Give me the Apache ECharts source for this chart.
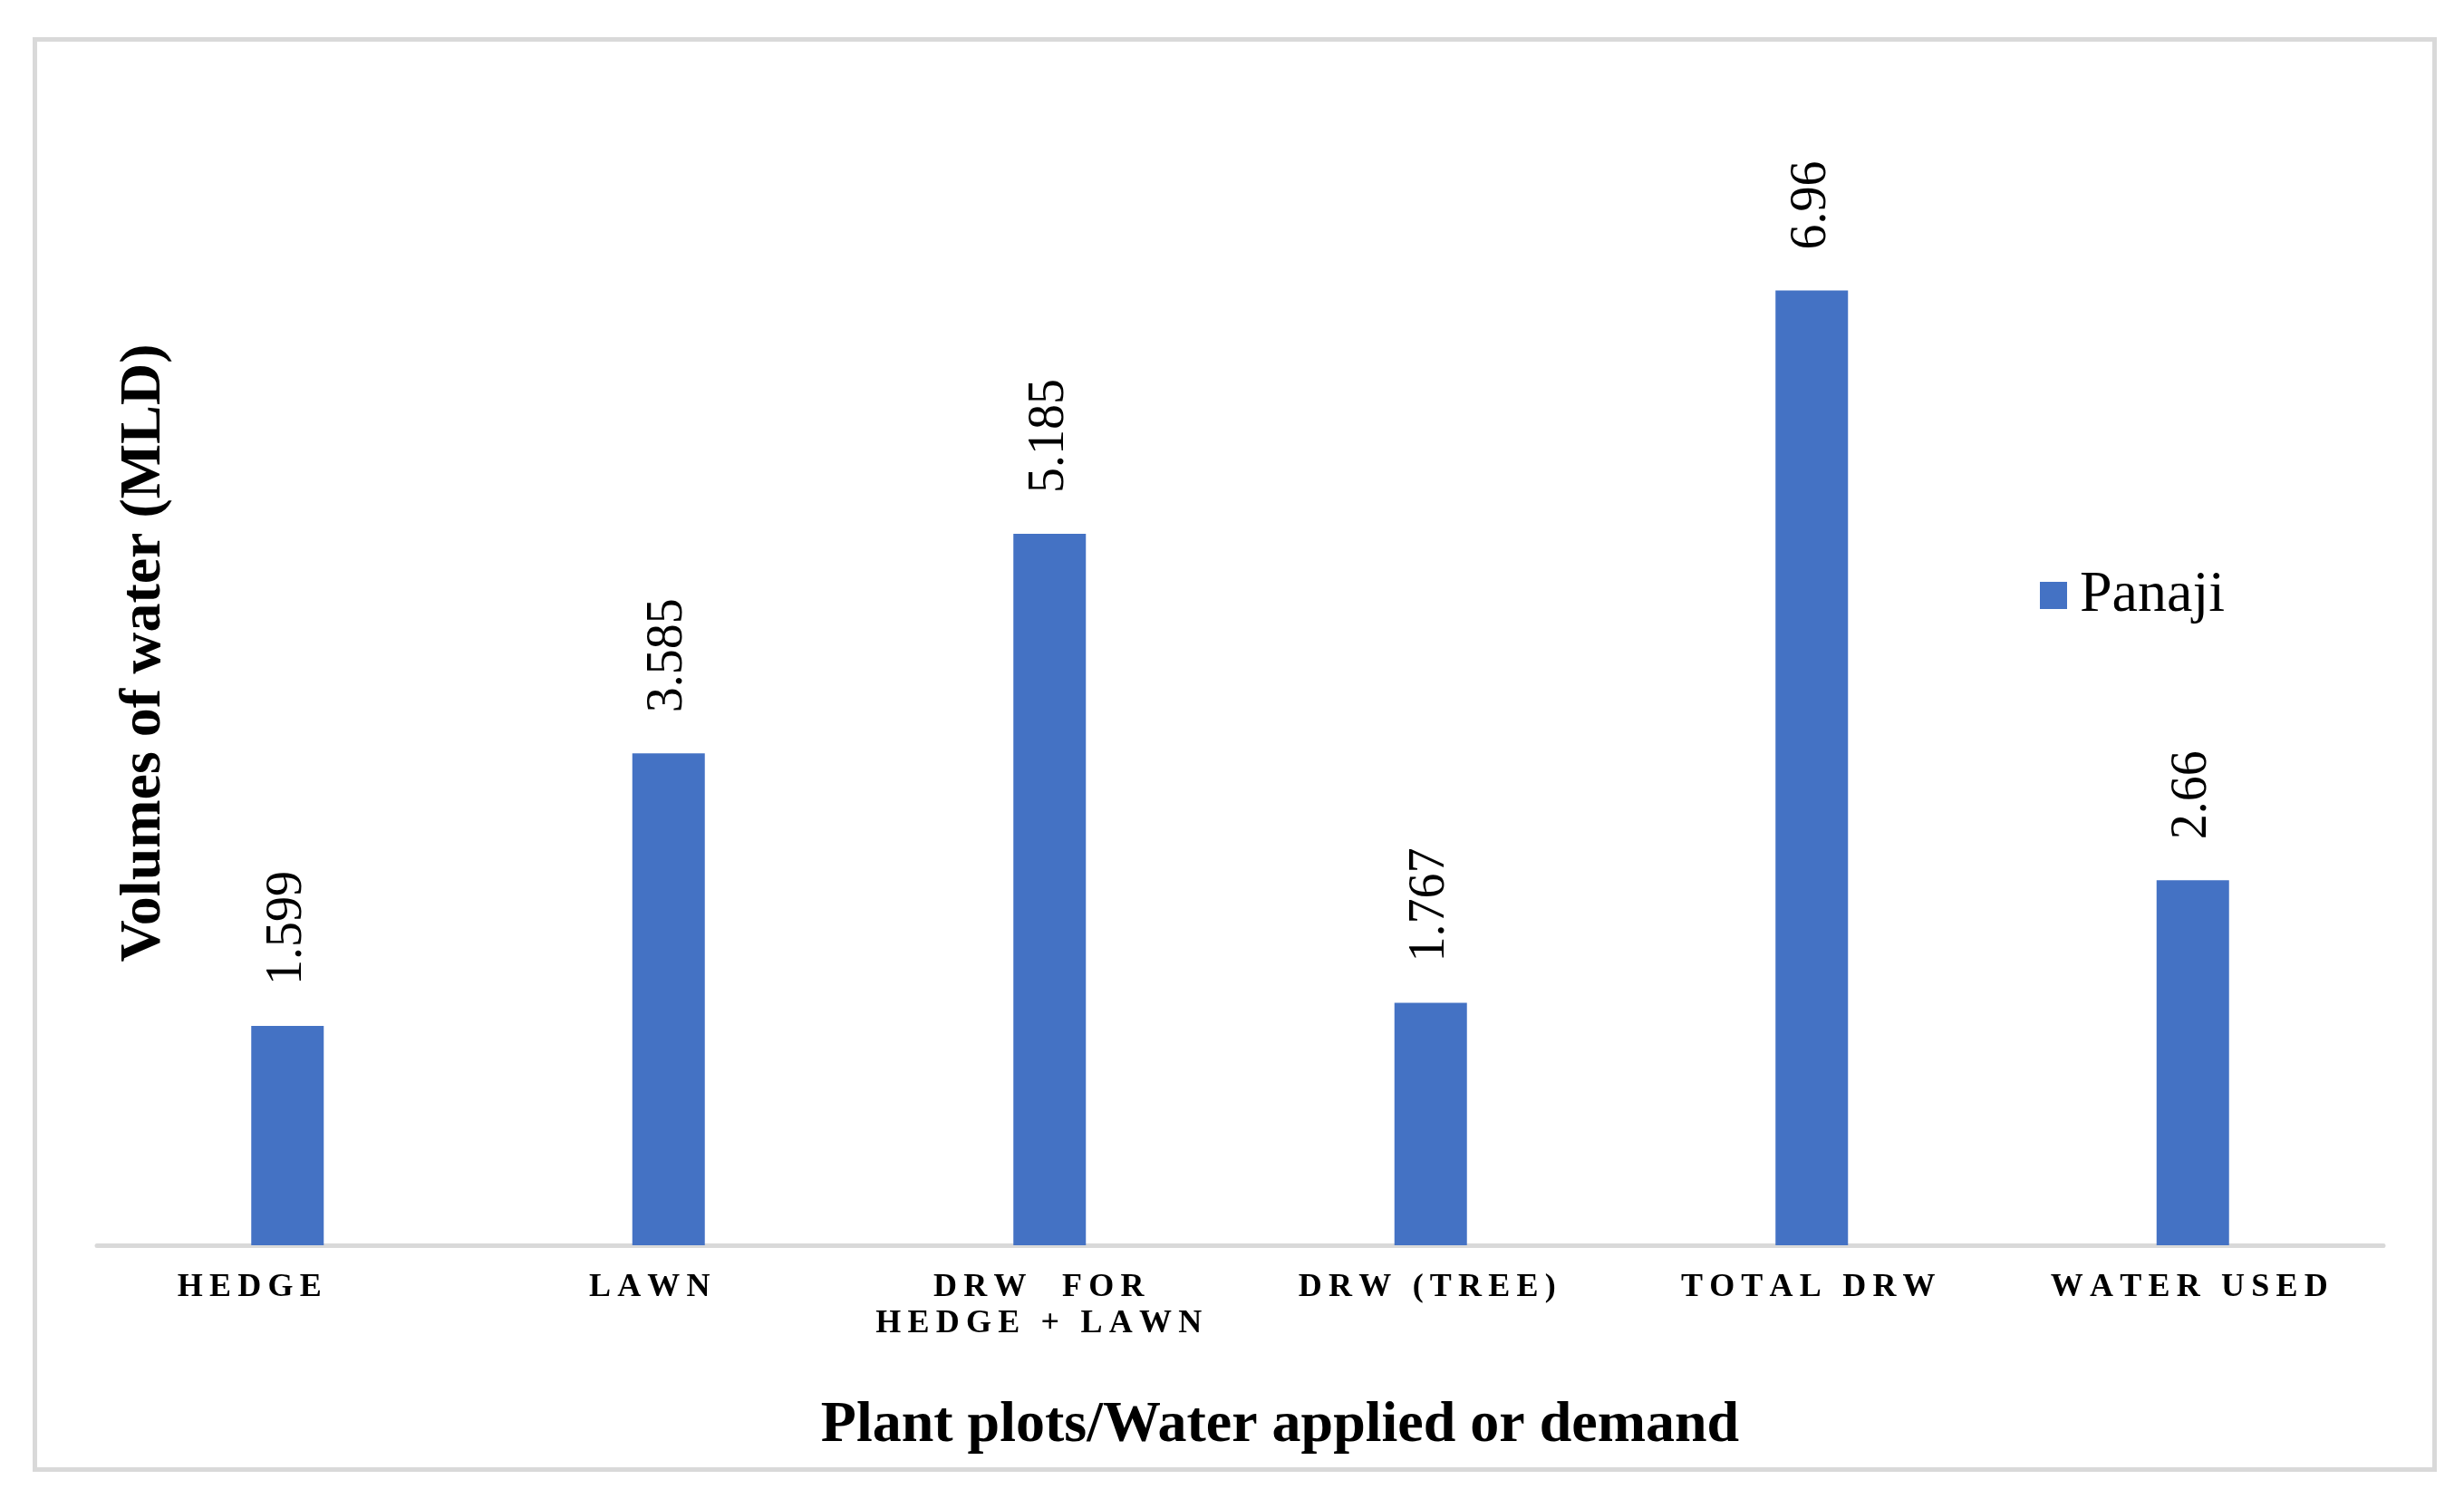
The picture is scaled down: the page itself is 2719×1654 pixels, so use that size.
<!DOCTYPE html>
<html>
<head>
<meta charset="utf-8">
<script src="https://cdn.jsdelivr.net/npm/echarts@6/dist/echarts.min.js"></script>
<style>
  html, body { margin: 0; padding: 0; background: #fff; }
  #main { width: 2719px; height: 1654px; }
</style>
</head>
<body>
<div id="main"></div>
<script>
const categories = ['HEDGE', 'LAWN', 'DRW  FOR\nHEDGE + LAWN', 'DRW (TREE)', 'TOTAL DRW', 'WATER USED']
const panaji = [1.599, 3.585, 5.185, 1.767, 6.96, 2.66]
const seriesName = 'Panaji'
const xTitle = 'Plant plots/Water applied or demand'
const yTitle = 'Volumes of water (MLD)'

const serif = '"Liberation Serif", "Times New Roman", serif'

// spread letters apart like the original small-caps labels
const spaced = s => s.split('\n').map(line => line.split('').join('\u2009')).join('\n')

// the original labels sit a bit left of their bars, most on the left side
const nudge = [84, 42, 24, 8, 8, 8]

const chart = echarts.init(document.getElementById('main'))
chart.setOption({
  animation: false,
  backgroundColor: '#fff',
  graphic: [{
    type: 'rect',
    shape: { x: 38.5, y: 43.5, width: 2648, height: 1578 },
    style: { fill: 'none', stroke: '#d9d9d9', lineWidth: 5 },
    silent: true
  }],
  legend: {
    data: [seriesName],
    left: 2246,
    top: 620,
    icon: 'rect',
    itemWidth: 30,
    itemHeight: 30,
    itemGap: 12,
    textStyle: { fontFamily: serif, fontSize: 64, color: '#000', padding: [0, 0, 0, 9] }
  },
  grid: { left: 107, right: 89, top: 163, bottom: 280 },
  xAxis: {
    type: 'category',
    data: categories.map((c, i) => ({ value: c, textStyle: { padding: [0, nudge[i], 0, 0] } })),
    axisLine: { lineStyle: { color: '#d9d9d9', width: 5 } },
    axisTick: { show: false },
    axisLabel: {
      interval: 0,
      margin: 27,
      fontFamily: serif,
      fontWeight: 'bold',
      fontSize: 36,
      lineHeight: 40,
      color: '#000',
      formatter: v => spaced(v)
    },
    name: xTitle,
    nameLocation: 'middle',
    nameGap: 167,
    nameTextStyle: {
      fontFamily: serif, fontWeight: 'bold', fontSize: 64, color: '#000',
      padding: [0, 0, 0, 88]
    }
  },
  yAxis: {
    type: 'value',
    min: 0,
    max: 8,
    axisLine: { show: false },
    axisTick: { show: false },
    axisLabel: { show: false },
    splitLine: { show: false },
    name: yTitle,
    nameLocation: 'middle',
    nameGap: -84,
    nameTextStyle: {
      fontFamily: serif, fontWeight: 'bold', fontSize: 64, color: '#000',
      padding: [0, 0, 0, 96]
    }
  },
  series: [{
    name: seriesName,
    type: 'bar',
    data: panaji,
    barWidth: 80,
    itemStyle: { color: '#4472C4' },
    label: {
      show: true,
      position: 'top',
      rotate: 90,
      align: 'left',
      verticalAlign: 'middle',
      distance: 45,
      fontFamily: serif,
      fontSize: 56,
      color: '#000'
    }
  }]
})
</script>
</body>
</html>
